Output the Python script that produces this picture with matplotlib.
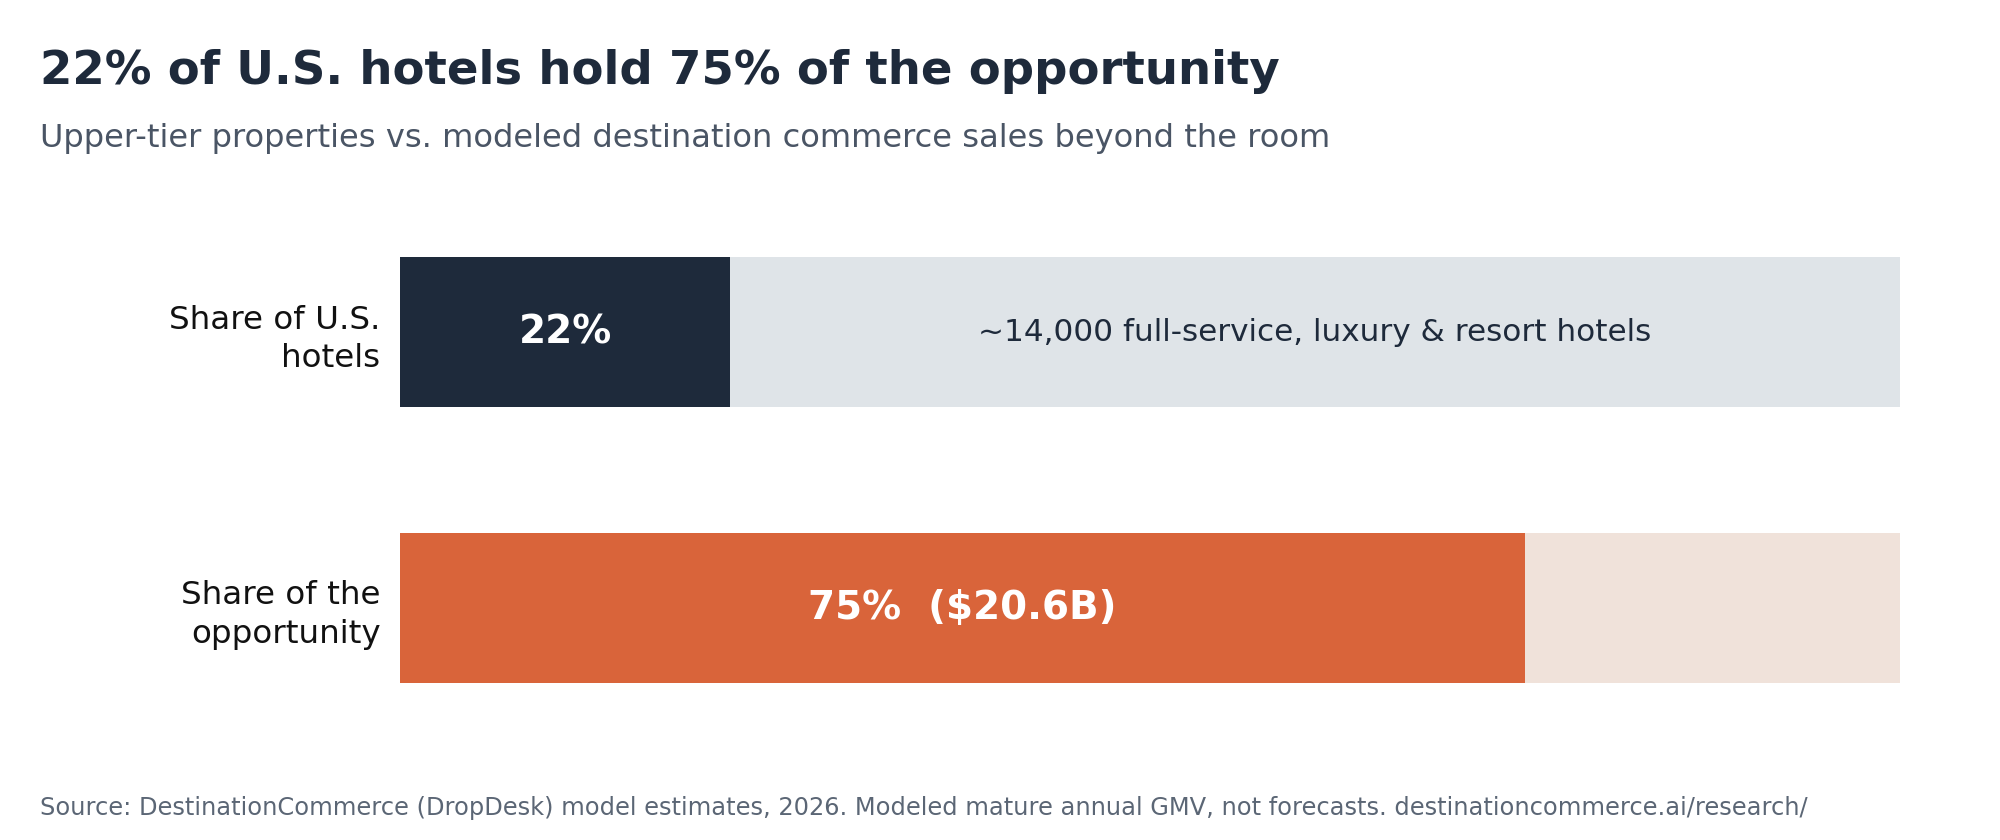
import matplotlib
matplotlib.use("Agg")
import matplotlib.pyplot as plt

# data
rows = ["Share of U.S.\nhotels", "Share of the\nopportunity"]
shares = [22, 75]
bar_labels = ["22%", "75%  ($20.6B)"]
rest_labels = ["~14,000 full-service, luxury & resort hotels", ""]

fill_colors = ["#1e2a3b", "#d9643a"]
rest_colors = ["#dfe4e8", "#f0e2da"]

plt.rcParams["font.family"] = "DejaVu Sans"

fig = plt.figure(figsize=(10, 4.2), dpi=200)
h = 0.545
ax = fig.add_axes([0.2, 1 - 683 / 840, 0.75, (683 - 257) / 840])

ypos = list(range(len(rows)))
ax.barh(ypos, shares, height=h, color=fill_colors)
ax.barh(ypos, [100 - s for s in shares], left=shares, height=h, color=rest_colors)

for i, s in enumerate(shares):
    ax.text(s / 2, i, bar_labels[i], ha="center", va="center",
            color="white", fontsize=14, fontweight="bold")
    if rest_labels[i]:
        ax.text(s + (100 - s) / 2, i, rest_labels[i], ha="center", va="center",
                color="#1e2a3b", fontsize=11.2)

ax.set_xlim(0, 100)
ax.set_ylim(len(rows) - 1 + h / 2, -h / 2)
ax.set_yticks(ypos)
ax.set_yticklabels(rows, fontsize=11.7, color="#111111", linespacing=1.3)
ax.tick_params(axis="y", length=0, pad=7)
ax.set_xticks([])
for sp in ax.spines.values():
    sp.set_visible(False)

fig.text(0.02, 1 - 84 / 840, "22% of U.S. hotels hold 75% of the opportunity",
         fontsize=16.8, fontweight="bold", color="#1e2a3b", va="baseline")
fig.text(0.02, 1 - 147 / 840,
         "Upper-tier properties vs. modeled destination commerce sales beyond the room",
         fontsize=11.55, color="#4a5565", va="baseline")
fig.text(0.02, 1 - 815 / 840,
         "Source: DestinationCommerce (DropDesk) model estimates, 2026. Modeled mature annual GMV, not forecasts. destinationcommerce.ai/research/",
         fontsize=8.7, color="#5b6675", va="baseline")

fig.savefig("out.png", dpi=200, facecolor="white")
